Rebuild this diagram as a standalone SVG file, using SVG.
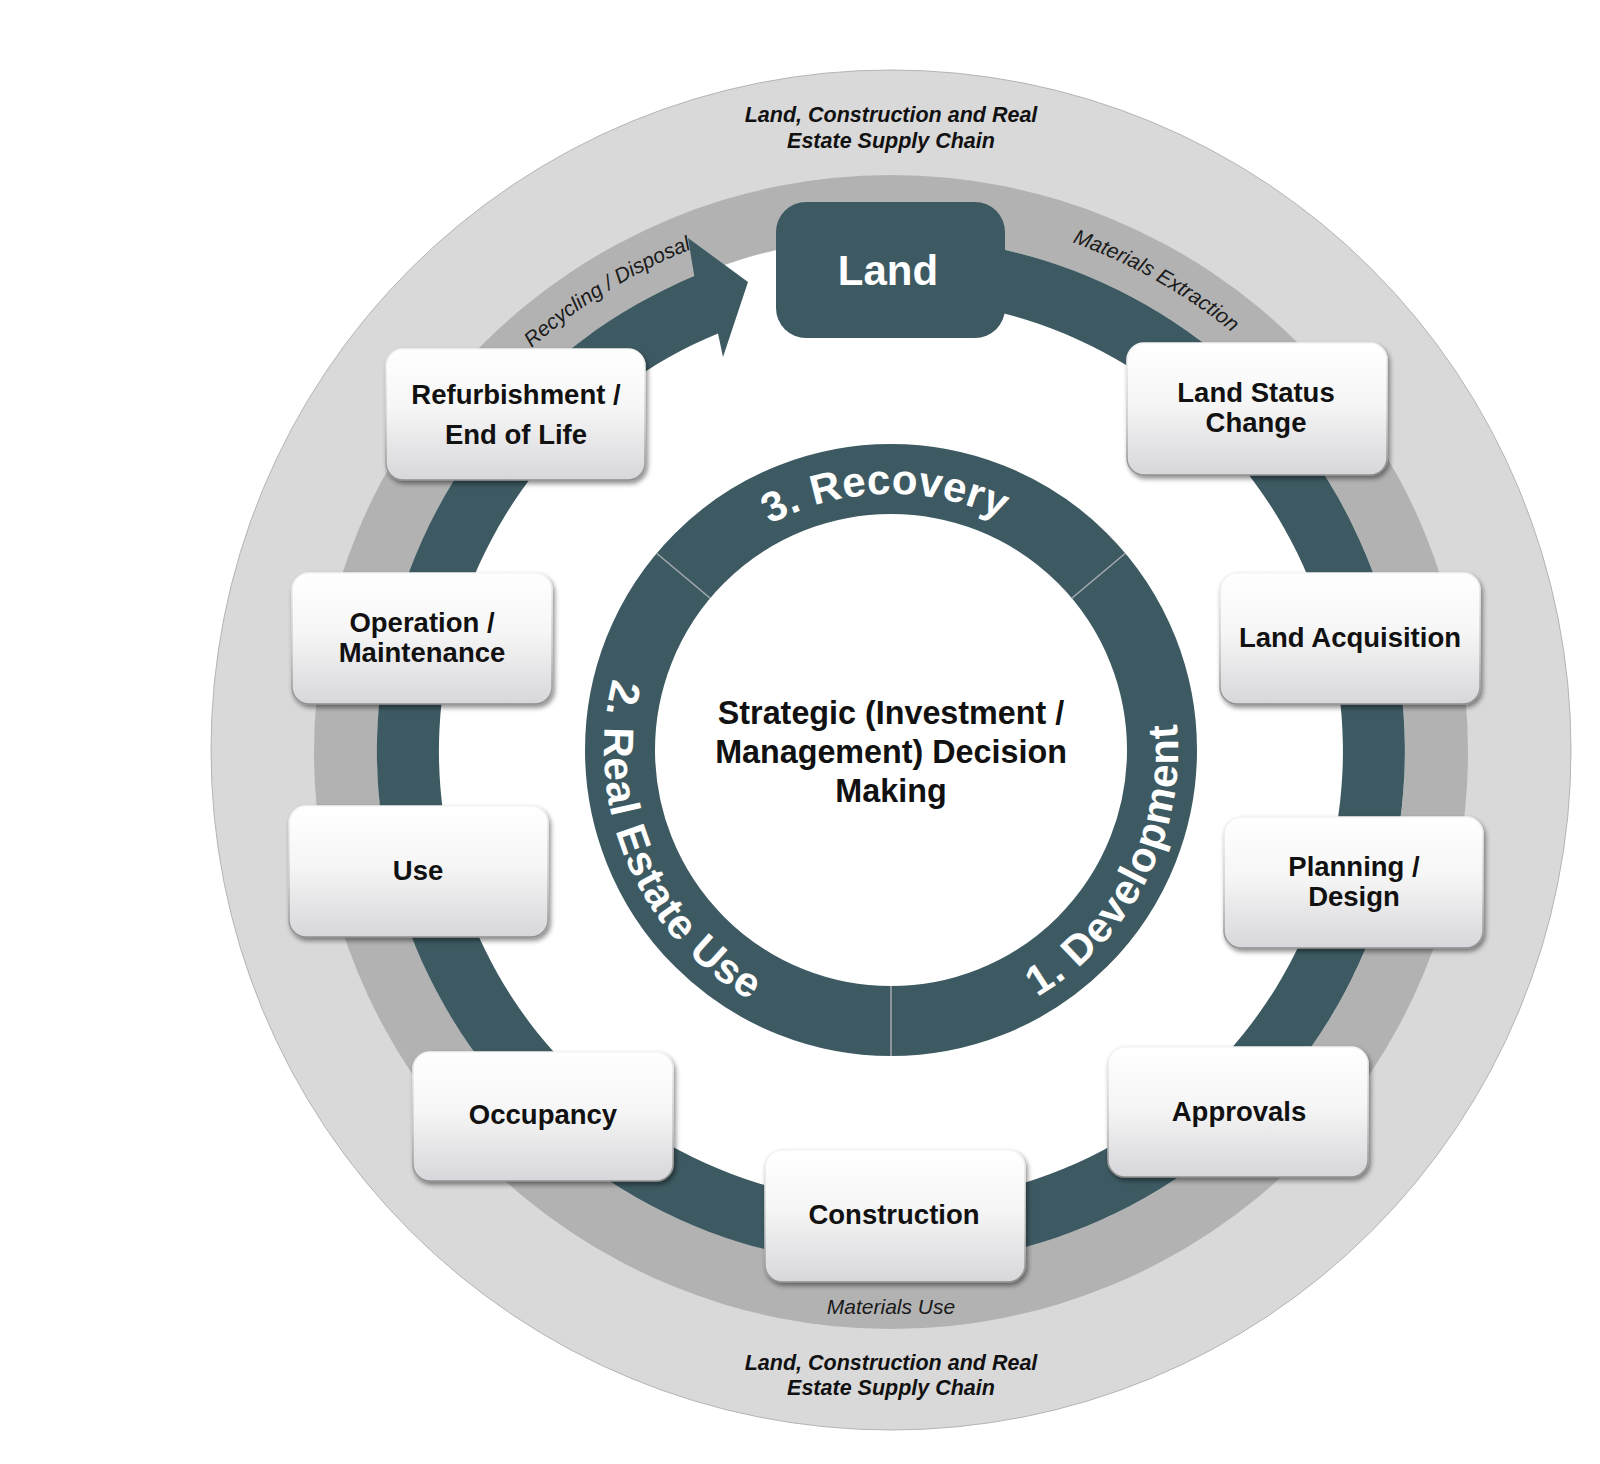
<svg xmlns="http://www.w3.org/2000/svg" width="1600" height="1464" viewBox="0 0 1600 1464">
<defs>
<style>
.box{fill:url(#boxfill);stroke:url(#boxedge);stroke-width:1.6;filter:url(#shadow)}
.bt{font-family:"Liberation Sans",Arial,sans-serif;font-weight:bold;font-size:27.5px;fill:#111;text-anchor:middle}
.ring{font-family:"Liberation Sans",Arial,sans-serif;font-weight:bold;font-size:42px;fill:#fff;text-anchor:middle}
.it{font-family:"Liberation Sans",Arial,sans-serif;font-style:italic;font-size:21px;fill:#1a1a1a;text-anchor:middle}
.bi{font-family:"Liberation Sans",Arial,sans-serif;font-style:italic;font-weight:bold;font-size:21.5px;fill:#111;text-anchor:middle}
.ct{font-family:"Liberation Sans",Arial,sans-serif;font-weight:bold;font-size:32.3px;fill:#111;text-anchor:middle}
.div{stroke:#a3abae;stroke-width:1.5}
</style>
<linearGradient id="boxfill" x1="0" y1="0" x2="0" y2="1">
<stop offset="0" stop-color="#ffffff"/>
<stop offset="0.45" stop-color="#f6f6f6"/>
<stop offset="1" stop-color="#d7d7db"/>
</linearGradient>
<linearGradient id="boxedge" x1="0" y1="0" x2="0" y2="1">
<stop offset="0" stop-color="#f4f4f4"/>
<stop offset="0.6" stop-color="#c8c8c8"/>
<stop offset="1" stop-color="#8e8e8e"/>
</linearGradient>
<filter id="shadow" x="-10%" y="-10%" width="125%" height="135%">
<feGaussianBlur in="SourceAlpha" stdDeviation="2.5"/>
<feOffset dx="1.5" dy="3" result="o"/>
<feComponentTransfer in="o" result="s"><feFuncA type="linear" slope="0.45"/></feComponentTransfer>
<feMerge><feMergeNode in="s"/><feMergeNode in="SourceGraphic"/></feMerge>
</filter>
<path id="pRecovery" d="M 650.4 662.4 A 256 256 0 0 1 1124.9 645.9"/>
<path id="pDevelopment" d="M 807.1 1024.5 A 287 287 0 0 0 1063.7 520.8"/>
<path id="pRealEstate" d="M 730.5 512.1 A 287 287 0 0 0 960.4 1028.5"/>
<path id="pRecycling" d="M 415.5 495 A 540 540 0 0 1 875 211.2"/>
<path id="pExtraction" d="M 885.3 211 A 540 540 0 0 1 1355.8 476.1"/>
</defs>
<rect width="1600" height="1464" fill="#ffffff"/>
<g id="background">
<circle cx="891" cy="750" r="680" fill="#d9d9d9" stroke="#b4b4b4" stroke-width="1"/>
<circle cx="891" cy="752" r="577" fill="#b2b2b2"/>
<circle cx="891" cy="751" r="514" fill="#ffffff"/>
</g>
<g id="band-labels">
<text class="bi" x="891" y="122">Land, Construction and Real</text>
<text class="bi" x="891" y="148">Estate Supply Chain</text>
<text class="bi" x="891" y="1370">Land, Construction and Real</text>
<text class="bi" x="891" y="1395">Estate Supply Chain</text>
<text class="it" x="891" y="1314">Materials Use</text>
<text class="it"><textPath href="#pRecycling" startOffset="50%">Recycling / Disposal</textPath></text>
<text class="it"><textPath href="#pExtraction" startOffset="50%">Materials Extraction</textPath></text>
</g>
<g id="connectors">
<path d="M 819.5 242 A 514 514 0 1 1 694.3 276.1 L 688 238 L 748 282 L 723 357 L 718 333.4 A 452 452 0 1 0 828.1 303.4 Z" fill="#3d5a62"/>
</g>
<g id="phases">
<circle cx="891" cy="750" r="271" fill="none" stroke="#3d5a62" stroke-width="70"/>
<line class="div" x1="891" y1="986" x2="891" y2="1056"/>
<line class="div" x1="710.2" y1="598.3" x2="656.6" y2="553.3"/>
<line class="div" x1="1071.8" y1="598.3" x2="1125.4" y2="553.3"/>
<text class="ring" letter-spacing="0.4"><textPath href="#pRecovery" startOffset="50.5%">3. Recovery</textPath></text>
<text class="ring" letter-spacing="1"><textPath href="#pDevelopment" startOffset="50%">1. Development</textPath></text>
<text class="ring" letter-spacing="0.8"><textPath href="#pRealEstate" startOffset="49.5%">2. Real Estate Use</textPath></text>
</g>
<g id="center">
<text class="ct" x="891" y="724">Strategic (Investment /</text>
<text class="ct" x="891" y="763">Management) Decision</text>
<text class="ct" x="891" y="802">Making</text>
</g>
<g id="land">
<rect x="776" y="202" width="229" height="136" rx="30" fill="#3d5a62"/>
<text x="888" y="285" font-family="Liberation Sans, Arial, sans-serif" font-weight="bold" font-size="42" fill="#ffffff" text-anchor="middle">Land</text>
</g>
<g id="land-status-change">
<rect class="box" x="1127" y="343" width="260" height="132" rx="17"/>
<text class="bt" x="1256" y="402">Land Status</text>
<text class="bt" x="1256" y="432">Change</text>
</g>
<g id="land-acquisition">
<rect class="box" x="1220" y="573" width="260" height="131" rx="17"/>
<text class="bt" x="1350" y="647">Land Acquisition</text>
</g>
<g id="planning-design">
<rect class="box" x="1224" y="817" width="259" height="131" rx="17"/>
<text class="bt" x="1354" y="876">Planning /</text>
<text class="bt" x="1354" y="906">Design</text>
</g>
<g id="approvals">
<rect class="box" x="1108" y="1047" width="260" height="130" rx="17"/>
<text class="bt" x="1239" y="1121">Approvals</text>
</g>
<g id="construction">
<rect class="box" x="765" y="1150" width="260" height="132" rx="17"/>
<text class="bt" x="894" y="1224">Construction</text>
</g>
<g id="occupancy">
<rect class="box" x="413" y="1052" width="260" height="129" rx="17"/>
<text class="bt" x="543" y="1124">Occupancy</text>
</g>
<g id="use">
<rect class="box" x="289" y="806" width="259" height="131" rx="17"/>
<text class="bt" x="418" y="880">Use</text>
</g>
<g id="operation-maintenance">
<rect class="box" x="292" y="573" width="260" height="131" rx="17"/>
<text class="bt" x="422" y="632">Operation /</text>
<text class="bt" x="422" y="662">Maintenance</text>
</g>
<g id="refurbishment">
<rect class="box" x="386" y="349" width="259" height="131" rx="17"/>
<text class="bt" x="516" y="404">Refurbishment /</text>
<text class="bt" x="516" y="444">End of Life</text>
</g>
</svg>
